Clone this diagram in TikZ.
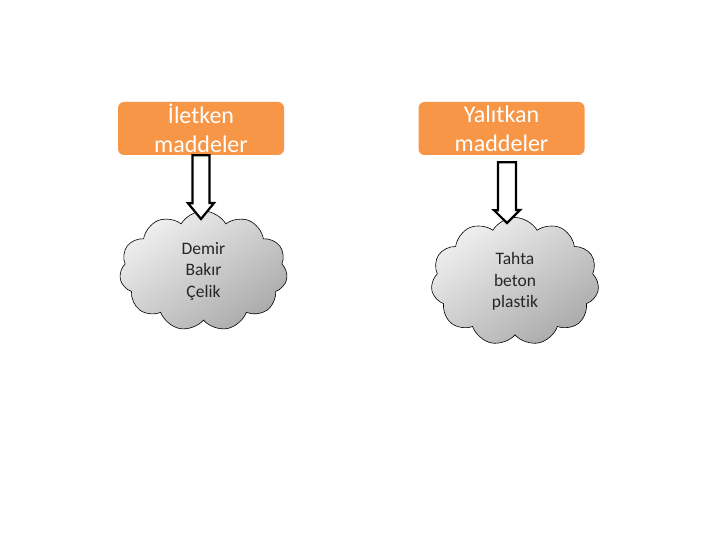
\documentclass[tikz,border=0pt]{standalone}
\usepackage{fontspec}
\setmainfont{Carlito}[Ligatures={NoCommon}]
\usetikzlibrary{shapes.symbols}
\definecolor{boxorange}{HTML}{F79646}
\tikzset{
  titlebox/.style={fill=boxorange, draw=none, rounded corners=6pt, minimum width=166pt, minimum height=53pt,
    text=white, align=center, inner sep=0pt, font=\fontsize{24}{29}\selectfont},
  puff/.style={cloud, cloud puffs=11, cloud puff arc=120, draw=black, line width=0.6pt,
    shading=axis, top color=gray!12, bottom color=gray!66, shading angle=35,
    align=center, inner sep=0pt, font=\fontsize{17.5}{21.5}\selectfont, text=black!85},
  blockarrow/.style={draw=black, fill=white, line width=2.2pt, line join=miter}
}
\begin{document}
\begin{tikzpicture}[x=1pt,y=-1pt]
\useasboundingbox (0,0) rectangle (720,540);
\node[titlebox] (b1) at (201,128.5) {İletken\\maddeler};
\node[titlebox] (b2) at (501.5,128.5) {Yalıtkan\\maddeler};
\node[puff, minimum width=168pt, minimum height=120pt] (c1) at (203.5,271) {Demir\\Bakır\\Çelik};
\node[puff, minimum width=168pt, minimum height=128pt] (c2) at (515,281.5) {Tahta\\beton\\plastik};
\coordinate (t1) at (201,219);
\coordinate (t2) at (507,223);
\draw[blockarrow] ([xshift=-8.5pt]b1.south) -- ++(0,48) -- ++(-4.5,0) -- (t1) -- ++(13,-16) -- ++(-4.5,0) -- ([xshift=8.5pt]b1.south) -- cycle;
\draw[blockarrow] ([xshift=-9pt,yshift=-7pt]t2 |- b2.south) -- ++(0,48) -- ++(-4,0) -- (t2) -- ++(13,-13) -- ++(-4,0) -- ([xshift=9pt,yshift=-7pt]t2 |- b2.south) -- cycle;
\end{tikzpicture}
\end{document}
